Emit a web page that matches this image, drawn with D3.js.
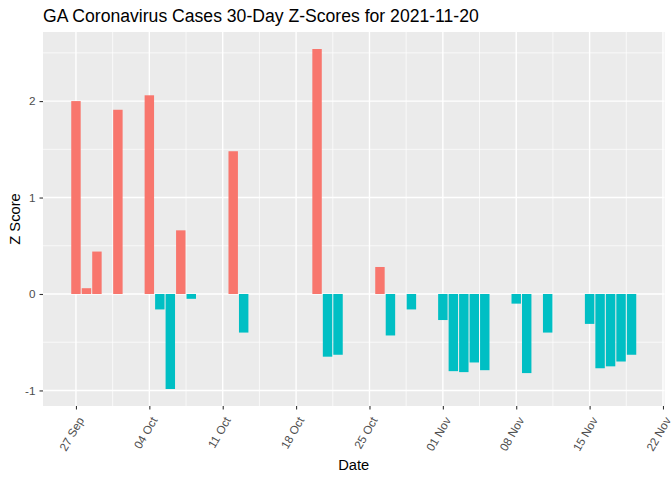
<!DOCTYPE html>
<html>
<head>
<meta charset="utf-8">
<script src="https://cdn.jsdelivr.net/npm/d3@7"></script>
<style>
  body { margin: 0; background: #fff; }
  text { font-family: "Liberation Sans", Arial, sans-serif; }
</style>
</head>
<body>
<div class="chart"></div>
<script>
// data
var dates = ["2021-09-27", "2021-09-28", "2021-09-29", "2021-10-01", "2021-10-04",
  "2021-10-05", "2021-10-06", "2021-10-07", "2021-10-08", "2021-10-12",
  "2021-10-13", "2021-10-20", "2021-10-21", "2021-10-22", "2021-10-26",
  "2021-10-27", "2021-10-29", "2021-11-01", "2021-11-02", "2021-11-03",
  "2021-11-04", "2021-11-05", "2021-11-08", "2021-11-09", "2021-11-11",
  "2021-11-15", "2021-11-16", "2021-11-17", "2021-11-18", "2021-11-19"];
var zscores = [2.00, 0.06, 0.44, 1.91, 2.06,
  -0.16, -0.985, 0.66, -0.05, 1.48,
  -0.40, 2.54, -0.65, -0.63, 0.28,
  -0.43, -0.16, -0.27, -0.80, -0.81,
  -0.71, -0.79, -0.10, -0.82, -0.40,
  -0.31, -0.77, -0.75, -0.70, -0.63];
var xTicks = ["2021-09-27", "2021-10-04", "2021-10-11", "2021-10-18", "2021-10-25",
  "2021-11-01", "2021-11-08", "2021-11-15", "2021-11-22"];
var yTicks = [-1, 0, 1, 2];
var yMinor = [-0.5, 0.5, 1.5, 2.5];

var width = 672;
var height = 480;
var margin = {top: 32, right: 7.5, bottom: 74, left: 43};
var DAY = 86400000;

var parse = d3.utcParse("%Y-%m-%d");
var data = dates.map(function(d, i) { return {date: parse(d), z: zscores[i]}; });

var svg = d3.select(".chart").append("svg")
    .attr("width", width)
    .attr("height", height);

// x domain like ggplot: bar extent (0.9 day wide) plus 5% each side
var x0 = d3.min(data, d => d.date).getTime() - 0.45 * DAY;
var x1 = d3.max(data, d => d.date).getTime() + 0.45 * DAY;
var xpad = (x1 - x0) * 0.05;
var x = d3.scaleUtc()
    .domain([new Date(x0 - xpad), new Date(x1 + xpad)])
    .range([margin.left, width - margin.right]);

var ymin = Math.min(0, d3.min(zscores)), ymax = Math.max(0, d3.max(zscores));
var ypad = (ymax - ymin) * 0.05;
var y = d3.scaleLinear()
    .domain([ymin - ypad, ymax + ypad])
    .range([height - margin.bottom, margin.top]);

var pLeft = margin.left, pRight = width - margin.right;
var pTop = margin.top, pBottom = height - margin.bottom;

// panel
svg.append("rect")
    .attr("x", pLeft).attr("y", pTop)
    .attr("width", pRight - pLeft).attr("height", pBottom - pTop)
    .attr("fill", "#EBEBEB");

var xt = xTicks.map(parse);
var xMinor = [];
for (var i = 0; i < xt.length - 1; i++) {
  xMinor.push(new Date((xt[i].getTime() + xt[i + 1].getTime()) / 2));
}

var grid = svg.append("g");
grid.selectAll("line.ymin").data(yMinor).enter().append("line")
    .attr("x1", pLeft).attr("x2", pRight)
    .attr("y1", d => y(d)).attr("y2", d => y(d))
    .attr("stroke", "#fff").attr("stroke-width", 0.7);
grid.selectAll("line.xmin").data(xMinor).enter().append("line")
    .attr("y1", pTop).attr("y2", pBottom)
    .attr("x1", d => x(d)).attr("x2", d => x(d))
    .attr("stroke", "#fff").attr("stroke-width", 0.7);
grid.selectAll("line.ymaj").data(yTicks).enter().append("line")
    .attr("x1", pLeft).attr("x2", pRight)
    .attr("y1", d => y(d)).attr("y2", d => y(d))
    .attr("stroke", "#fff").attr("stroke-width", 1.4);
grid.selectAll("line.xmaj").data(xt).enter().append("line")
    .attr("y1", pTop).attr("y2", pBottom)
    .attr("x1", d => x(d)).attr("x2", d => x(d))
    .attr("stroke", "#fff").attr("stroke-width", 1.4);

// bars
svg.append("g").selectAll("rect")
    .data(data)
    .enter().append("rect")
    .attr("x", d => x(new Date(d.date.getTime() - 0.45 * DAY)))
    .attr("width", d => x(new Date(d.date.getTime() + 0.45 * DAY)) - x(new Date(d.date.getTime() - 0.45 * DAY)))
    .attr("y", d => y(Math.max(0, d.z)))
    .attr("height", d => Math.abs(y(d.z) - y(0)))
    .attr("fill", d => d.z > 0 ? "#F8766D" : "#00BFC4");

// y axis (plain hyphen for negatives, like R)
var yAxis = svg.append("g")
    .attr("transform", "translate(" + pLeft + ",0)")
    .call(d3.axisLeft(y).tickValues(yTicks).tickSize(3.5).tickPadding(4).tickFormat(d => String(d)));
yAxis.select(".domain").remove();
yAxis.selectAll("line").attr("stroke", "#333333").attr("stroke-width", 1.1);
yAxis.selectAll("text")
    .attr("fill", "#4D4D4D")
    .style("font-size", "11.7px")
    .style("font-family", "Liberation Sans, Arial, sans-serif");

// x axis
var xAxis = svg.append("g")
    .attr("transform", "translate(0," + pBottom + ")")
    .call(d3.axisBottom(x).tickValues(xt).tickSize(3.5).tickFormat(d3.utcFormat("%d %b")));
xAxis.select(".domain").remove();
xAxis.selectAll("line").attr("stroke", "#333333").attr("stroke-width", 1.1);
xAxis.selectAll("text")
    .attr("fill", "#4D4D4D")
    .style("font-size", "11.7px")
    .style("font-family", "Liberation Sans, Arial, sans-serif")
    .attr("text-anchor", "end")
    .attr("y", 0).attr("dy", 0)
    .attr("transform", "translate(8,14) rotate(-60)");

// titles
svg.append("text")
    .attr("x", pLeft).attr("y", 22)
    .style("font-size", "17.6px")
    .attr("fill", "#000")
    .text("GA Coronavirus Cases 30-Day Z-Scores for 2021-11-20");

svg.append("text")
    .attr("x", (pLeft + pRight) / 2).attr("y", 470)
    .attr("text-anchor", "middle")
    .style("font-size", "14.7px")
    .text("Date");

svg.append("text")
    .attr("transform", "translate(19.5," + (pTop + pBottom) / 2 + ") rotate(-90)")
    .attr("text-anchor", "middle")
    .style("font-size", "14.7px")
    .text("Z Score");
</script>
</body>
</html>
